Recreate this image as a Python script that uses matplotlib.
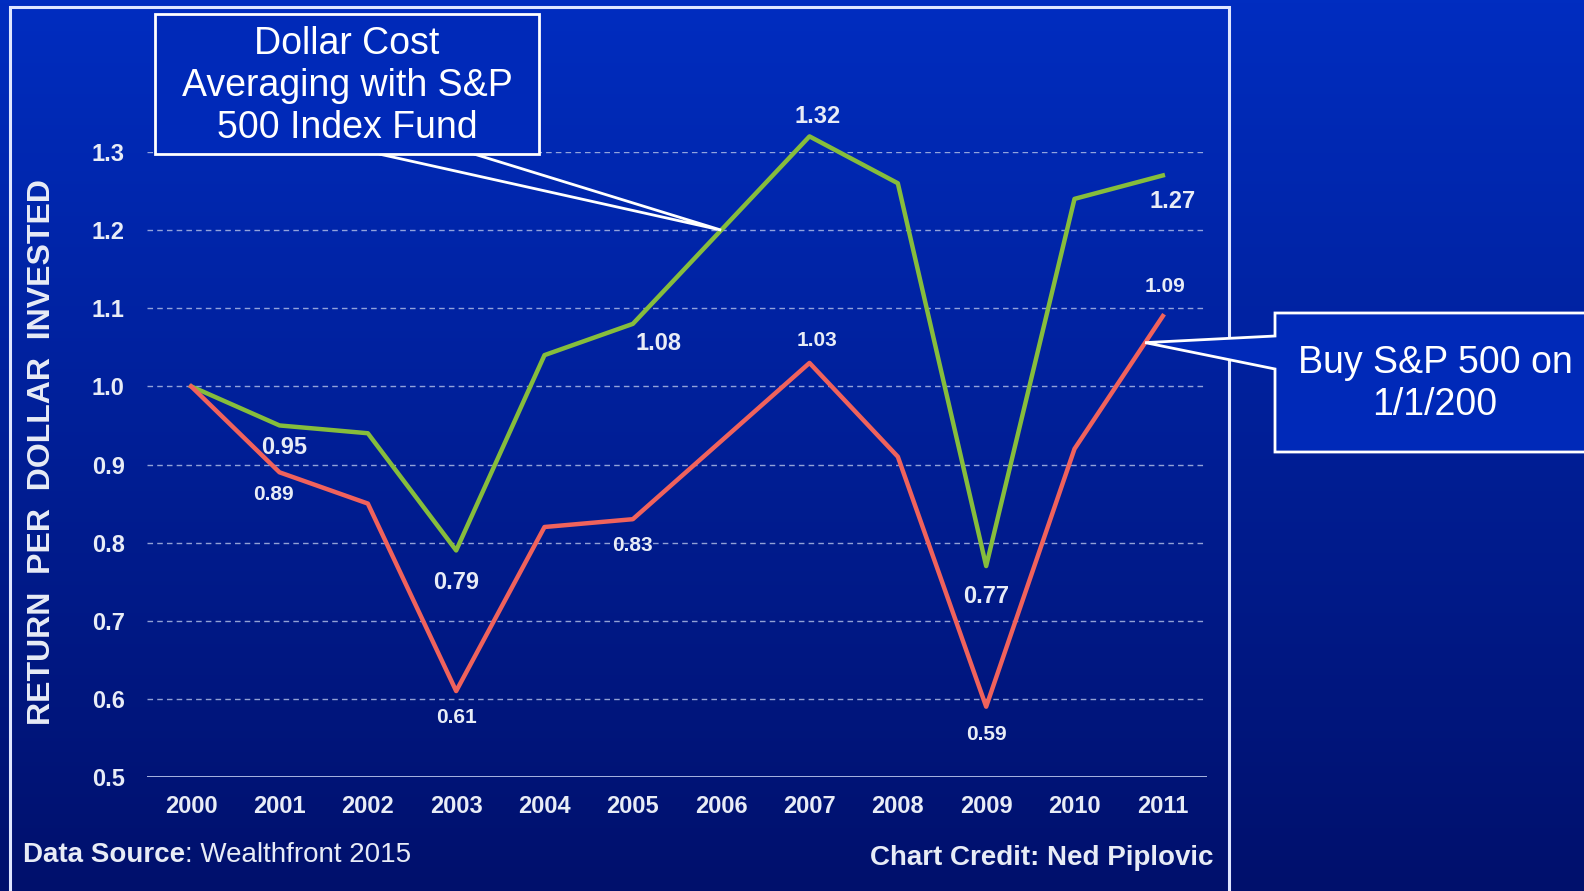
import numpy as np
import matplotlib.pyplot as plt
from matplotlib.patches import Rectangle, Polygon

years = ['2000', '2001', '2002', '2003', '2004', '2005', '2006',
         '2007', '2008', '2009', '2010', '2011']
dca = [1.00, 0.95, 0.94, 0.79, 1.04, 1.08, 1.20, 1.32, 1.26, 0.77, 1.24, 1.27]
lump = [1.00, 0.89, 0.85, 0.61, 0.82, 0.83, 0.93, 1.03, 0.91, 0.59, 0.92, 1.09]
yticks = [0.5, 0.6, 0.7, 0.8, 0.9, 1.0, 1.1, 1.2, 1.3]

# which points get a value label, and where (dx px, dy px)
dca_lbl = {1: (5, -22), 3: (0, -32), 5: (26, -20), 7: (8, 20), 9: (0, -30), 11: (10, -26)}
lump_lbl = {1: (-6, -22), 3: (0, -26), 5: (0, -26), 7: (8, 22), 9: (0, -28), 11: (2, 30)}

W, H = 1584, 891
fig = plt.figure(figsize=(W / 100, H / 100), dpi=100)
plt.rcParams['font.family'] = ['Liberation Sans', 'DejaVu Sans']
txt_c = '#e8ecf6'

# gradient background
bg = fig.add_axes([0, 0, 1, 1], zorder=-10)
top = np.array([0, 45, 192]) / 255
bot = np.array([0, 16, 108]) / 255
t = np.linspace(0, 1, 256)[:, None]
grad = top + (bot - top) * t
bg.imshow(grad[:, None, :].repeat(2, axis=1), aspect='auto', extent=[0, 1, 0, 1])
bg.axis('off')

# panel frame
fig.patches.append(Rectangle((10 / W, -0.05), 1219 / W, 1 - 7 / H + 0.05,
                             transform=fig.transFigure, fill=False,
                             edgecolor='#dfe6ff', lw=2.2, zorder=-5))

ax = fig.add_axes([147 / W, 1 - 777 / H, (1207 - 147) / W, (777 - 152) / H])
ax.set_facecolor('none')
x = np.arange(len(years))
ax.set_xlim(-0.5, 11.5)
ax.set_ylim(0.5, 1.3)
for v in yticks[1:]:
    ax.axhline(v, color='#b8c4ea', lw=1, ls=(0, (4, 3)), alpha=0.8, zorder=1)
ax.axhline(0.5, color='#b8c4ea', lw=2, zorder=1)

ax.plot(x, dca, color='#86bd3c', lw=3.2, clip_on=False, zorder=3)
ax.plot(x, lump, color='#f0625c', lw=3.2, clip_on=False, zorder=3)

for i, (dx, dy) in dca_lbl.items():
    ax.annotate(f'{dca[i]:.2f}', (x[i], dca[i]), xytext=(dx, dy),
                textcoords='offset pixels', ha='center', va='center',
                color=txt_c, fontsize=17, fontweight='bold', annotation_clip=False)
for i, (dx, dy) in lump_lbl.items():
    ax.annotate(f'{lump[i]:.2f}', (x[i], lump[i]), xytext=(dx, dy),
                textcoords='offset pixels', ha='center', va='center',
                color=txt_c, fontsize=15, fontweight='bold', annotation_clip=False)

ax.set_xticks(x)
ax.set_xticklabels(years)
ax.set_yticks(yticks)
ax.set_yticklabels([f'{v:.1f}' for v in yticks])
ax.tick_params(length=0, colors=txt_c, labelsize=17, pad=13)
ax.tick_params(axis='y', pad=16)
for lab in ax.get_xticklabels() + ax.get_yticklabels():
    lab.set_fontweight('bold')
for s in ax.spines.values():
    s.set_visible(False)

fig.text(42 / W, 1 - 452 / H, 'RETURN  PER  DOLLAR  INVESTED', rotation=90,
         ha='center', va='center', color=txt_c, fontsize=23, fontweight='bold')

src = fig.text(23 / W, 1 - 855 / H, 'Data Source', color=txt_c, fontsize=20,
               fontweight='bold', va='center')
ax.annotate(': Wealthfront 2015', xy=(1, 0.5), xycoords=src, va='center',
            color=txt_c, fontsize=20, annotation_clip=False)
fig.text(1213 / W, 1 - 858 / H, 'Chart Credit: Ned Piplovic', color=txt_c,
         fontsize=20, fontweight='bold', ha='right', va='center')

# callout 1 (points at DCA 2006)
box_c = '#0029b8'
p1 = ax.transData.transform((6, dca[6]))
p1 = fig.transFigure.inverted().transform(p1)
fig.patches.append(Polygon([(379 / W, 1 - 154 / H), (p1[0], p1[1]), (474 / W, 1 - 154 / H)],
                           closed=False, transform=fig.transFigure, fill=False,
                           edgecolor='white', lw=2, zorder=6))
fig.patches.append(Rectangle((155 / W, 1 - 154 / H), (539 - 155) / W, (154 - 14) / H,
                             transform=fig.transFigure, facecolor=box_c,
                             edgecolor='white', lw=2, zorder=7))
fig.text(347 / W, 1 - 86 / H, 'Dollar Cost\nAveraging with S&P\n500 Index Fund',
         ha='center', va='center', color='white', fontsize=27, linespacing=1.2, zorder=8)

# callout 2 (points at lump sum between 2010 and 2011)
xp = 10.8
yp = lump[10] + (lump[11] - lump[10]) * 0.8
p2 = fig.transFigure.inverted().transform(ax.transData.transform((xp, yp)))
bx0, by0, by1 = 1275 / W, 1 - 452 / H, 1 - 313 / H
box2 = Polygon([(bx0, by1), (1.01, by1), (1.01, by0), (bx0, by0),
                (bx0, 1 - 369 / H), (p2[0], p2[1]), (bx0, 1 - 336 / H)],
               closed=True, transform=fig.transFigure, facecolor=box_c,
               edgecolor='white', lw=2, zorder=7)
fig.patches.append(box2)
fig.text(1435 / W, 1 - 384 / H, 'Buy S&P 500 on\n1/1/200', ha='center', va='center',
         color='white', fontsize=27, linespacing=1.2, zorder=8)

fig.savefig('out.png', dpi=100)
